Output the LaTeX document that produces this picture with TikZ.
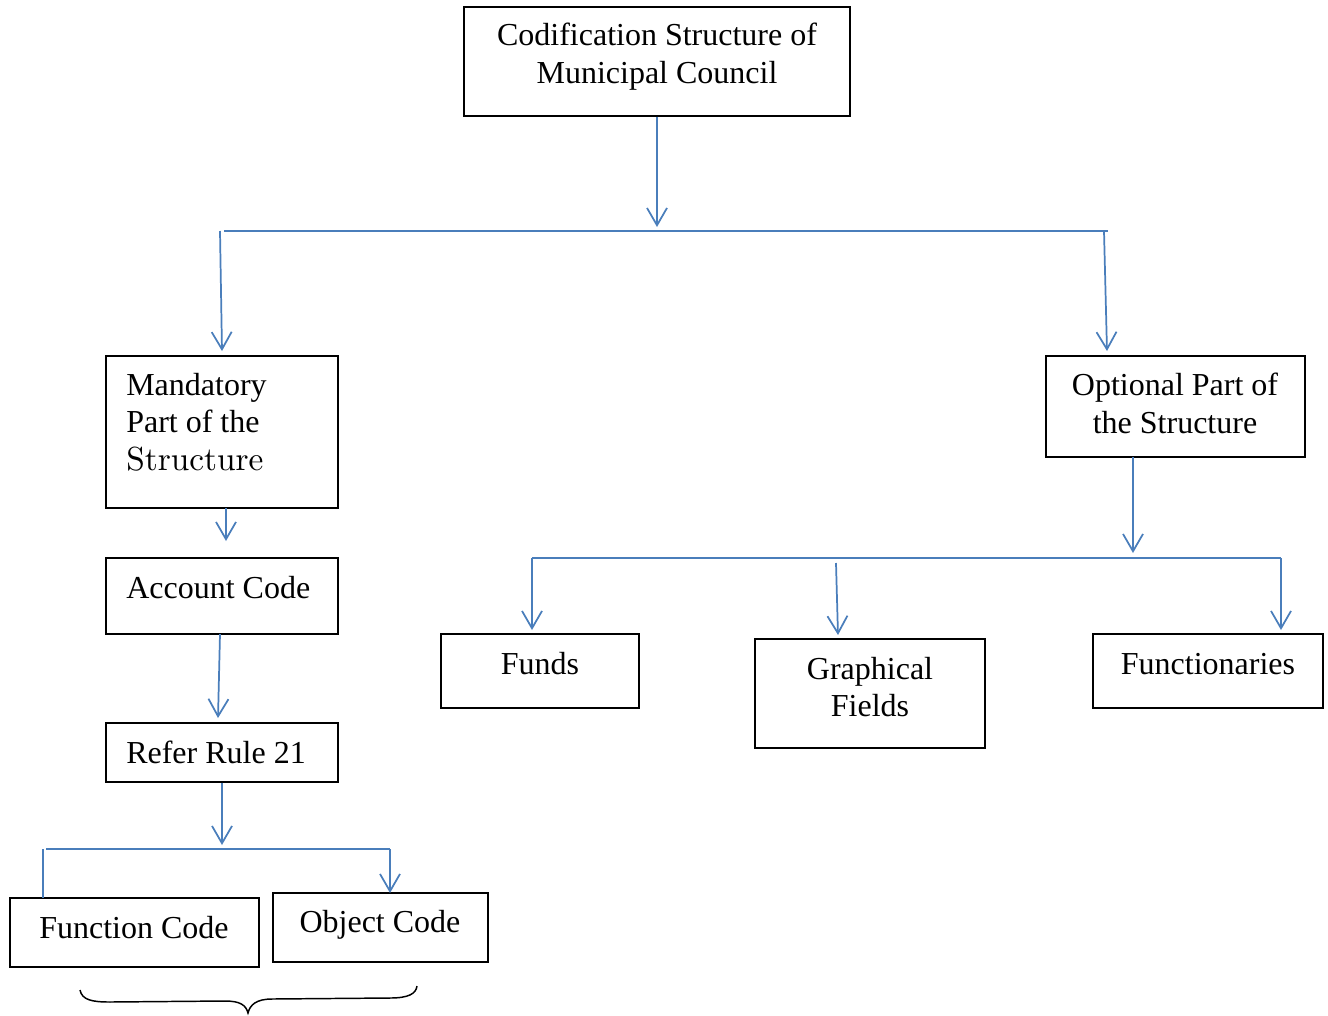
\documentclass[tikz,border=0pt]{standalone}
\usepackage{fontspec}
\setmainfont{Liberation Serif}
\newfontfamily\lmfont{lmroman10-regular}[Extension=.otf]
\usetikzlibrary{arrows.meta,calc}
\definecolor{conblue}{HTML}{4A7EBB}
\begin{document}
\begin{tikzpicture}[x=0.75pt,y=-0.75pt,
  box/.style={draw=black,line width=1.1pt,inner sep=0pt,fill=none},
  txt/.style={anchor=base,inner sep=0pt,font=\fontsize{24}{28}\selectfont},
  txtl/.style={txt,anchor=base west},
  conn/.style={draw=conblue,line width=1.3pt,-{Straight Barb[length=13pt,width=15pt]}},
  plain/.style={draw=conblue,line width=1.3pt},
  brace/.style={draw=black,line width=1.1pt}]
\useasboundingbox (0,0) rectangle (1328,1015);
% boxes
\node[box,minimum width=386*0.75pt,minimum height=109*0.75pt] (top) at (657,61.5) {};
\node[box,minimum width=232*0.75pt,minimum height=152*0.75pt] (mand) at (222,432) {};
\node[box,minimum width=232*0.75pt,minimum height=76*0.75pt] (acct) at (222,596) {};
\node[box,minimum width=232*0.75pt,minimum height=59*0.75pt] (rule) at (222,752.5) {};
\node[box,minimum width=249*0.75pt,minimum height=69*0.75pt] (func) at (134.5,932.5) {};
\node[box,minimum width=215*0.75pt,minimum height=69*0.75pt] (obj) at (380.5,927.5) {};
\node[box,minimum width=259*0.75pt,minimum height=101*0.75pt] (opt) at (1175.5,406.5) {};
\node[box,minimum width=198*0.75pt,minimum height=74*0.75pt] (funds) at (540,671) {};
\node[box,minimum width=230*0.75pt,minimum height=109*0.75pt] (graph) at (870,693.5) {};
\node[box,minimum width=230*0.75pt,minimum height=74*0.75pt] (fnry) at (1208,671) {};
% texts
\node[txt] (t1a) at (657,45) {Codification Structure of};
\node[txt] (t1b) at (657,83) {Municipal Council};
\node[txtl] (t2a) at (126,395) {Mandatory};
\node[txtl] (t2b) at (126,432) {Part of the};
\node[txtl,font=\lmfont\fontsize{25}{28}\selectfont] (t2c) at (126,470) {Structure};
\node[txtl] (t3) at (126,598) {Account Code};
\node[txtl] (t4) at (126,763) {Refer Rule 21};
\node[txt] (t5) at (134,938) {Function Code};
\node[txt] (t6) at (380,932) {Object Code};
\node[txt] (t7a) at (1175,395) {Optional Part of};
\node[txt] (t7b) at (1175,433) {the Structure};
\node[txt] (t8) at (540,674) {Funds};
\node[txt] (t9a) at (870,679) {Graphical};
\node[txt] (t9b) at (870,716) {Fields};
\node[txt] (t10) at (1208,674) {Functionaries};
% coordinates
\coordinate (a1) at (657,227);
\coordinate (barL) at (224,231);
\coordinate (barR) at (1108,231);
\coordinate (l1) at (220,231);
\coordinate (l2) at (222,351);
\coordinate (r1) at (1104,231);
\coordinate (r2) at (1107,351);
\coordinate (m1) at (226,508);
\coordinate (m2) at (226,541);
\coordinate (c1) at (220,634);
\coordinate (c2) at (218,718);
\coordinate (d2) at (222,845);
\coordinate (b2L) at (46,849);
\coordinate (b2R) at (390,849);
\coordinate (f1) at (43,849);
\coordinate (f2) at (43,898);
\coordinate (o2) at (390,893);
\coordinate (p1) at (1133,457);
\coordinate (p2) at (1133,553);
\coordinate (q1) at (532,630);
\coordinate (q2) at (532,558);
\coordinate (q3) at (1281,558);
\coordinate (q4) at (1281,630);
\coordinate (g1) at (836,563);
\coordinate (g2) at (838,635);
% connectors
\draw[conn] (top.south) -- (a1);
\draw[plain] (barL) -- (barR);
\draw[conn] (l1) -- (l2);
\draw[conn] (r1) -- (r2);
\draw[conn] (m1) -- (m2);
\draw[conn] (c1) -- (c2);
\draw[conn] (rule.south) -- (d2);
\draw[plain] (b2L) -- (b2R);
\draw[conn] (b2R) -- (o2);
\draw[plain] (f1) -- (f2);
\draw[conn] (p1) -- (p2);
\draw[conn] (q2) -- (q1);
\draw[plain] (q2) -- (q3);
\draw[conn] (q3) -- (q4);
\draw[conn] (g1) -- (g2);
% brace
\coordinate (brL) at (80,990);
\coordinate (brM) at (248,1013);
\coordinate (brR) at (417,986);
\draw[brace] (brL) .. controls (82,1000) and (92,1002) .. (110,1002)
  -- (225,1001) .. controls (240,1001) and (246,1005) .. (brM)
  .. controls (250,1005) and (256,999) .. (272,999)
  -- (390,998) .. controls (408,998) and (416,994) .. (brR);
\end{tikzpicture}
\end{document}
